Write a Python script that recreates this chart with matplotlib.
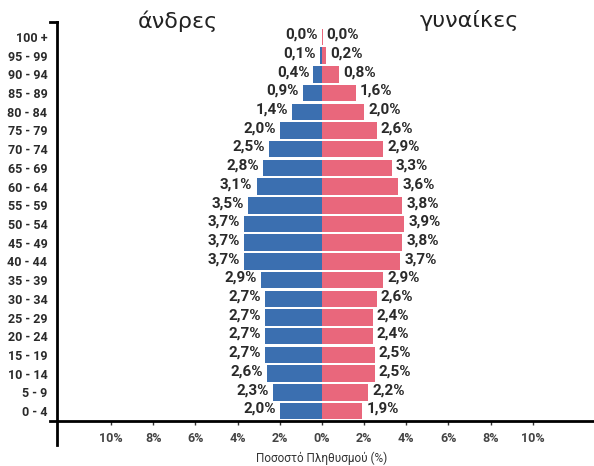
import matplotlib.pyplot as plt
import numpy as np

ages = ["0 - 4", "5 - 9", "10 - 14", "15 - 19", "20 - 24", "25 - 29", "30 - 34",
        "35 - 39", "40 - 44", "45 - 49", "50 - 54", "55 - 59", "60 - 64", "65 - 69",
        "70 - 74", "75 - 79", "80 - 84", "85 - 89", "90 - 94", "95 - 99", "100 +"]
men = [2.0, 2.3, 2.6, 2.7, 2.7, 2.7, 2.7, 2.9, 3.7, 3.7, 3.7, 3.5, 3.1, 2.8,
       2.5, 2.0, 1.4, 0.9, 0.4, 0.1, 0.0]
women = [1.9, 2.2, 2.5, 2.5, 2.4, 2.4, 2.6, 2.9, 3.7, 3.8, 3.9, 3.8, 3.6, 3.3,
         2.9, 2.6, 2.0, 1.6, 0.8, 0.2, 0.0]
xticks = [-10, -8, -6, -4, -2, 0, 2, 4, 6, 8, 10]

blue = "#3b6fb0"
pink = "#e9677c"
font = ["Roboto", "DejaVu Sans"]

fig = plt.figure(figsize=(5.94, 4.66), dpi=100)
ax = fig.add_axes([0.096, 0.0966, 0.904, 0.8562])

y = np.arange(len(ages))
ax.barh(y, [-m for m in men], height=0.88, color=blue, edgecolor="none")
ax.barh(y, women, height=0.88, color=pink, edgecolor="none")
# tiny sliver so the 0.0 row shows a hairline like the original
ax.barh(y[-1], 0.05, height=0.88, color=pink, edgecolor="none")

for yi, m, w in zip(y, men, women):
    ax.text(-m - 0.2, yi + 0.12, f"{m:.1f}%".replace(".", ","), ha="right", va="center",
            fontsize=11, fontweight="bold", color="#2a2a2a", family=font)
    ax.text(w + 0.2, yi + 0.12, f"{w:.1f}%".replace(".", ","), ha="left", va="center",
            fontsize=11, fontweight="bold", color="#2a2a2a", family=font)

ax.set_xlim(-12.56, 12.9)
ax.set_ylim(-0.53, 20.8)
ax.set_yticks(y)
ax.set_yticklabels(ages, fontsize=9, fontweight="bold", family=font, color="#2a2a2a")
ax.tick_params(axis="y", length=0, pad=7)
ax.set_xticks(xticks)
ax.set_xticklabels([f"{abs(t)}%" for t in xticks], fontsize=9, fontweight="bold",
                   family=font, color="#444444")
ax.tick_params(axis="x", length=3, width=1, pad=5, color="#333333")

for s in ax.spines.values():
    s.set_visible(False)

# axis frame lines
ax.plot([-0.013, 1.0], [0, 0], transform=ax.transAxes, color="black", lw=2, clip_on=False)
ax.plot([0, 0], [-0.06, 1.0], transform=ax.transAxes, color="black", lw=2, clip_on=False)
ax.plot([-0.013, 0], [1.0, 1.0], transform=ax.transAxes, color="black", lw=2, clip_on=False)

fig.text(0.30, 0.955, "άνδρες", ha="center", va="center", fontsize=16, color="#222222",
         family="DejaVu Sans")
fig.text(0.79, 0.955, "γυναίκες", ha="center", va="center", fontsize=16, color="#222222",
         family="DejaVu Sans")
fig.text(0.542, 0.017, "Ποσοστό Πληθυσμού (%)", ha="center", va="center", fontsize=8.5,
         color="#333333", family=font)

fig.savefig("out.png", dpi=100)
